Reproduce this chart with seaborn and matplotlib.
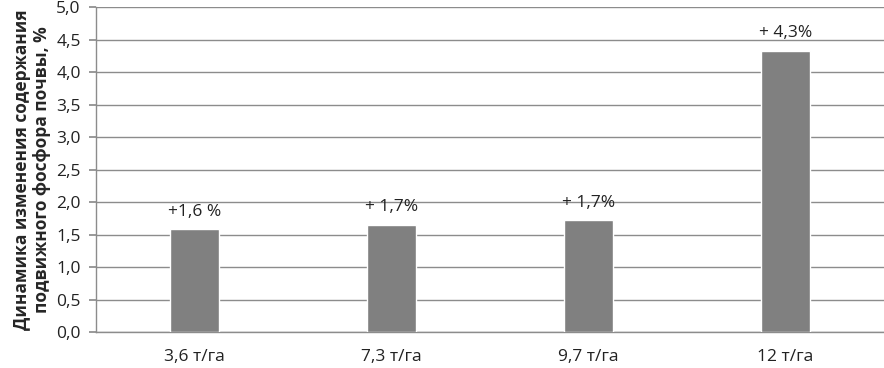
import matplotlib
matplotlib.use("Agg")
import matplotlib.pyplot as plt
import seaborn as sns
import pandas as pd

categories = ["3,6 т/га", "7,3 т/га", "9,7 т/га", "12 т/га"]
values = [1.58, 1.65, 1.72, 4.33]
bar_labels = ["+1,6 %", "+ 1,7%", "+ 1,7%", "+ 4,3%"]
yticks = [0.0, 0.5, 1.0, 1.5, 2.0, 2.5, 3.0, 3.5, 4.0, 4.5, 5.0]
ytick_labels = ["0,0", "0,5", "1,0", "1,5", "2,0", "2,5", "3,0", "3,5", "4,0", "4,5", "5,0"]
ylabel = "Динамика изменения содержания\nподвижного фосфора почвы, %"

sns.set_theme(style="white")
plt.rcParams['font.family'] = ['Open Sans', 'DejaVu Sans']

df = pd.DataFrame({"cat": categories, "val": values})

fig = plt.figure(figsize=(8.84, 3.68), dpi=100)
ax = fig.add_axes([0.1086, 0.0978, 0.8914, 0.883])
sns.barplot(data=df, x="cat", y="val", color="#808080", saturation=1,
            width=0.25, ax=ax, zorder=3)

for p, lab in zip(ax.patches, bar_labels):
    ax.annotate(lab, (p.get_x() + p.get_width() / 2, p.get_height()),
                xytext=(0, 7), textcoords="offset points",
                ha="center", va="bottom", fontsize=12.5, color="#222222")

ax.set_ylim(0, 5)
ax.set_yticks(yticks)
ax.set_yticklabels(ytick_labels, fontsize=12.5, color="#222222")
ax.set_xlim(-0.5, 3.5)
ax.tick_params(axis='x', labelsize=12.5, length=0, pad=12, labelcolor="#222222")
ax.tick_params(axis='y', length=5, color="#8c8c8c", direction='out', pad=6, left=True)
ax.set_xlabel("")
ax.set_ylabel(ylabel, fontsize=12.5, fontweight='bold', labelpad=4, linespacing=1.1)
ax.yaxis.grid(True, color="#8c8c8c", linewidth=1.0, zorder=0)
ax.set_axisbelow(True)
for s in ["top", "right"]:
    ax.spines[s].set_visible(False)
ax.spines["left"].set_color("#8c8c8c")
ax.spines["bottom"].set_color("#8c8c8c")
ax.spines["left"].set_linewidth(1.0)
ax.spines["bottom"].set_linewidth(1.0)

fig.savefig("out.png", dpi=100)
